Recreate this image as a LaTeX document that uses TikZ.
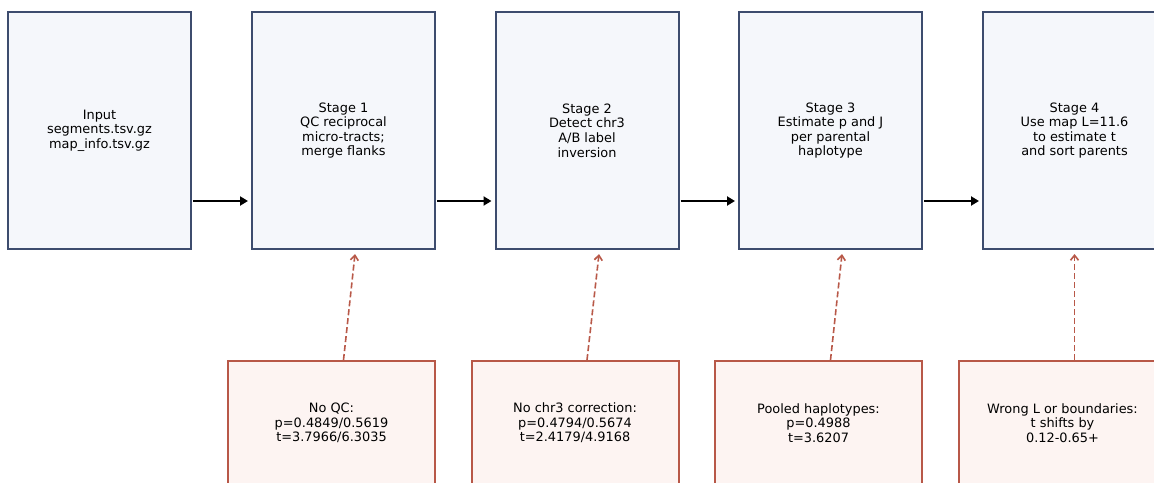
\documentclass[tikz,border=0pt]{standalone}
\usepackage{fontspec}
\setmainfont{DejaVu Sans}
\usetikzlibrary{arrows.meta,calc}
\definecolor{stagefill}{RGB}{245,247,251}
\definecolor{stageline}{RGB}{61,76,110}
\definecolor{failfill}{RGB}{253,244,242}
\definecolor{failline}{RGB}{184,88,72}
\tikzset{
  stagebox/.style={draw=stageline, fill=stagefill, line width=2pt, rectangle,
    minimum width=183pt, minimum height=237pt, inner sep=0pt, align=center,
    font=\fontsize{12.9}{14.6}\selectfont},
  failbox/.style={draw=failline, fill=failfill, line width=2pt, rectangle,
    minimum width=207pt, minimum height=124pt, inner sep=0pt, align=center,
    font=\fontsize{12.9}{14.6}\selectfont},
  flow/.style={line width=2.8pt, -{Triangle[length=8pt,width=9pt]}},
  fail/.style={failline, line width=1.6pt, dash pattern=on 6pt off 3pt,
    -{Straight Barb[length=5pt,width=8pt]}}
}
\begin{document}
\begin{tikzpicture}[x=1pt,y=-1pt]
\useasboundingbox (0,0) rectangle (1154,482);
\node[stagebox] (in0) at (99.5,130.5) {Input\\segments.tsv.gz\\map\_info.tsv.gz};
\node[stagebox] (s1) at (343.5,130.5) {Stage 1\\QC reciprocal\\micro-tracts;\\merge flanks};
\node[stagebox] (s2) at (587,130.5) {Stage 2\\Detect chr3\\A/B label\\inversion};
\node[stagebox] (s3) at (830.5,130.5) {Stage 3\\Estimate p and J\\per parental\\haplotype};
\node[stagebox] (s4) at (1074.5,130.5) {Stage 4\\Use map L=11.6\\to estimate t\\and sort parents};
\node[failbox] (f1) at (331.5,423) {No QC:\\p=0.4849/0.5619\\t=3.7966/6.3035};
\node[failbox] (f2) at (575,423) {No chr3 correction:\\p=0.4794/0.5674\\t=2.4179/4.9168};
\node[failbox] (f3) at (818.5,423) {Pooled haplotypes:\\p=0.4988\\t=3.6207};
\node[failbox] (f4) at (1062.5,423) {Wrong L or boundaries:\\t shifts by\\0.12-0.65+};
\draw[flow, shorten <=1pt, shorten >=3pt] (in0.east |- 0,201) -- (s1.west |- 0,201);
\draw[flow, shorten <=1pt, shorten >=3pt] (s1.east |- 0,201) -- (s2.west |- 0,201);
\draw[flow, shorten <=1pt, shorten >=3pt] (s2.east |- 0,201) -- (s3.west |- 0,201);
\draw[flow, shorten <=1pt, shorten >=3pt] (s3.east |- 0,201) -- (s4.west |- 0,201);
\coordinate (t1) at (355,254);
\coordinate (t2) at (599,254);
\coordinate (t3) at (842,254);
\coordinate (t4) at (1074.5,254);
\draw[fail] (f1.north -| s1.south) -- (t1);
\draw[fail] (f2.north -| s2.south) -- (t2);
\draw[fail] (f3.north -| s3.south) -- (t3);
\draw[fail] (f4.north -| s4.south) -- (t4);
\end{tikzpicture}
\end{document}
